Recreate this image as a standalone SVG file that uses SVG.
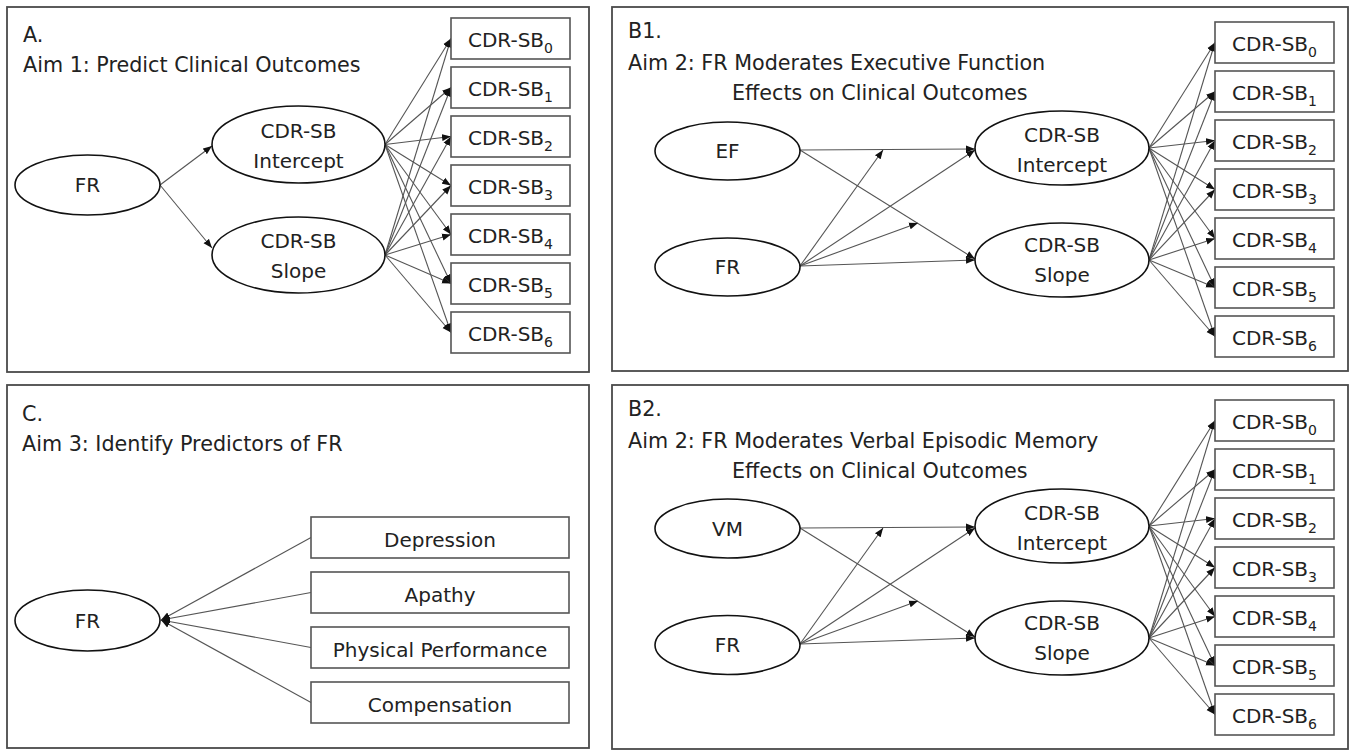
<svg xmlns="http://www.w3.org/2000/svg" width="1353" height="750" viewBox="0 0 1353 750">
<style>
text{font-family:"DejaVu Sans","Liberation Sans",sans-serif;font-size:20px;fill:#222}
.t{font-size:20.7px}
.c{text-anchor:middle}
.sub{font-size:14px}
.panel{fill:none;stroke:#4a4a4a;stroke-width:1.8}
.ell{fill:#fff;stroke:#111;stroke-width:1.6}
.box{fill:#fff;stroke:#555;stroke-width:1.6}
.con line{stroke:#555;stroke-width:1.1;fill:none}
.arr{marker-end:url(#ah)}
</style>
<defs>
<marker id="ah" markerUnits="userSpaceOnUse" markerWidth="9" markerHeight="8" refX="9" refY="4" orient="auto">
<path d="M0,0.5 L9,4 L0,7.5 z" fill="#111"/>
</marker>
</defs>
<rect width="1353" height="750" fill="#fff"/>

<!-- Panel borders -->
<g id="panels">
<rect class="panel" x="7" y="7" width="582" height="365"/>
<rect class="panel" x="612" y="7" width="736" height="364"/>
<rect class="panel" x="7" y="385" width="582" height="363"/>
<rect class="panel" x="612" y="385" width="736" height="364"/>
</g>

<!-- Titles -->
<g id="titles">
<text class="t" x="23" y="42">A.</text>
<text class="t" x="23" y="72">Aim 1: Predict Clinical Outcomes</text>
<text class="t" x="628" y="38">B1.</text>
<text class="t" x="628" y="70">Aim 2: FR Moderates Executive Function</text>
<text class="t" x="732" y="100">Effects on Clinical Outcomes</text>
<text class="t" x="22" y="421">C.</text>
<text class="t" x="22" y="451">Aim 3: Identify Predictors of FR</text>
<text class="t" x="628" y="416">B2.</text>
<text class="t" x="628" y="448">Aim 2: FR Moderates Verbal Episodic Memory</text>
<text class="t" x="732" y="478">Effects on Clinical Outcomes</text>
</g>

<!-- Connectors -->
<g id="connectors" class="con">
<!-- Panel A -->
<line class="arr" x1="160" y1="185" x2="212" y2="146"/>
<line class="arr" x1="160" y1="185" x2="212" y2="248"/>
<line class="arr" x1="385" y1="144.5" x2="451" y2="38.5"/>
<line class="arr" x1="385" y1="144.5" x2="451" y2="87.5"/>
<line class="arr" x1="385" y1="144.5" x2="451" y2="136.5"/>
<line class="arr" x1="385" y1="144.5" x2="451" y2="185.5"/>
<line class="arr" x1="385" y1="144.5" x2="451" y2="234.5"/>
<line class="arr" x1="385" y1="144.5" x2="451" y2="283.5"/>
<line class="arr" x1="385" y1="144.5" x2="451" y2="332.5"/>
<line class="arr" x1="385" y1="255" x2="451" y2="38.5"/>
<line class="arr" x1="385" y1="255" x2="451" y2="87.5"/>
<line class="arr" x1="385" y1="255" x2="451" y2="136.5"/>
<line class="arr" x1="385" y1="255" x2="451" y2="185.5"/>
<line class="arr" x1="385" y1="255" x2="451" y2="234.5"/>
<line class="arr" x1="385" y1="255" x2="451" y2="283.5"/>
<line class="arr" x1="385" y1="255" x2="451" y2="332.5"/>
<!-- Panel B1 -->
<line class="arr" x1="800" y1="150" x2="975" y2="149"/>
<line class="arr" x1="800" y1="150" x2="975" y2="259"/>
<line class="arr" x1="800" y1="266" x2="883" y2="150"/>
<line class="arr" x1="800" y1="266" x2="975" y2="150"/>
<line class="arr" x1="800" y1="266" x2="918" y2="223"/>
<line class="arr" x1="800" y1="266" x2="975" y2="260"/>
<line class="arr" x1="1149" y1="148" x2="1215" y2="42.5"/>
<line class="arr" x1="1149" y1="148" x2="1215" y2="91.5"/>
<line class="arr" x1="1149" y1="148" x2="1215" y2="140.5"/>
<line class="arr" x1="1149" y1="148" x2="1215" y2="189.5"/>
<line class="arr" x1="1149" y1="148" x2="1215" y2="238.5"/>
<line class="arr" x1="1149" y1="148" x2="1215" y2="287.5"/>
<line class="arr" x1="1149" y1="148" x2="1215" y2="336.5"/>
<line class="arr" x1="1149" y1="260" x2="1215" y2="42.5"/>
<line class="arr" x1="1149" y1="260" x2="1215" y2="91.5"/>
<line class="arr" x1="1149" y1="260" x2="1215" y2="140.5"/>
<line class="arr" x1="1149" y1="260" x2="1215" y2="189.5"/>
<line class="arr" x1="1149" y1="260" x2="1215" y2="238.5"/>
<line class="arr" x1="1149" y1="260" x2="1215" y2="287.5"/>
<line class="arr" x1="1149" y1="260" x2="1215" y2="336.5"/>
<!-- Panel C -->
<line class="arr" x1="311" y1="537.5" x2="161" y2="620"/>
<line class="arr" x1="311" y1="592.5" x2="161" y2="620"/>
<line class="arr" x1="311" y1="647.5" x2="161" y2="620"/>
<line class="arr" x1="311" y1="702.5" x2="161" y2="620"/>
<!-- Panel B2 -->
<line class="arr" x1="800" y1="528" x2="975" y2="527"/>
<line class="arr" x1="800" y1="528" x2="975" y2="637"/>
<line class="arr" x1="800" y1="644" x2="883" y2="528"/>
<line class="arr" x1="800" y1="644" x2="975" y2="528"/>
<line class="arr" x1="800" y1="644" x2="918" y2="601"/>
<line class="arr" x1="800" y1="644" x2="975" y2="638"/>
<line class="arr" x1="1149" y1="526" x2="1215" y2="420.5"/>
<line class="arr" x1="1149" y1="526" x2="1215" y2="469.5"/>
<line class="arr" x1="1149" y1="526" x2="1215" y2="518.5"/>
<line class="arr" x1="1149" y1="526" x2="1215" y2="567.5"/>
<line class="arr" x1="1149" y1="526" x2="1215" y2="616.5"/>
<line class="arr" x1="1149" y1="526" x2="1215" y2="665.5"/>
<line class="arr" x1="1149" y1="526" x2="1215" y2="714.5"/>
<line class="arr" x1="1149" y1="638" x2="1215" y2="420.5"/>
<line class="arr" x1="1149" y1="638" x2="1215" y2="469.5"/>
<line class="arr" x1="1149" y1="638" x2="1215" y2="518.5"/>
<line class="arr" x1="1149" y1="638" x2="1215" y2="567.5"/>
<line class="arr" x1="1149" y1="638" x2="1215" y2="616.5"/>
<line class="arr" x1="1149" y1="638" x2="1215" y2="665.5"/>
<line class="arr" x1="1149" y1="638" x2="1215" y2="714.5"/>
</g>

<!-- Panel A nodes -->
<g id="a-fr"><ellipse class="ell" cx="87.5" cy="185" rx="72.5" ry="30"/><text class="c" x="87.5" y="192">FR</text></g>
<g id="a-int"><ellipse class="ell" cx="298.5" cy="144.5" rx="86.5" ry="38.5"/><text class="c" x="298.5" y="137.5">CDR-SB</text><text class="c" x="298.5" y="167.5">Intercept</text></g>
<g id="a-slope"><ellipse class="ell" cx="298.5" cy="255" rx="86.5" ry="38"/><text class="c" x="298.5" y="248">CDR-SB</text><text class="c" x="298.5" y="278">Slope</text></g>
<g id="a-sb0"><rect class="box" x="451" y="18" width="119" height="41"/><text class="c" x="510.5" y="47">CDR-SB<tspan class="sub" dy="6">0</tspan></text></g>
<g id="a-sb1"><rect class="box" x="451" y="67" width="119" height="41"/><text class="c" x="510.5" y="96">CDR-SB<tspan class="sub" dy="6">1</tspan></text></g>
<g id="a-sb2"><rect class="box" x="451" y="116" width="119" height="41"/><text class="c" x="510.5" y="145">CDR-SB<tspan class="sub" dy="6">2</tspan></text></g>
<g id="a-sb3"><rect class="box" x="451" y="165" width="119" height="41"/><text class="c" x="510.5" y="194">CDR-SB<tspan class="sub" dy="6">3</tspan></text></g>
<g id="a-sb4"><rect class="box" x="451" y="214" width="119" height="41"/><text class="c" x="510.5" y="243">CDR-SB<tspan class="sub" dy="6">4</tspan></text></g>
<g id="a-sb5"><rect class="box" x="451" y="263" width="119" height="41"/><text class="c" x="510.5" y="292">CDR-SB<tspan class="sub" dy="6">5</tspan></text></g>
<g id="a-sb6"><rect class="box" x="451" y="312" width="119" height="41"/><text class="c" x="510.5" y="341">CDR-SB<tspan class="sub" dy="6">6</tspan></text></g>

<!-- Panel B1 nodes -->
<g id="b1-ef"><ellipse class="ell" cx="727.5" cy="151" rx="72.5" ry="29"/><text class="c" x="727.5" y="158">EF</text></g>
<g id="b1-fr"><ellipse class="ell" cx="727.5" cy="267" rx="72.5" ry="29"/><text class="c" x="727.5" y="274">FR</text></g>
<g id="b1-int"><ellipse class="ell" cx="1062" cy="148" rx="87" ry="37"/><text class="c" x="1062" y="142">CDR-SB</text><text class="c" x="1062" y="172">Intercept</text></g>
<g id="b1-slope"><ellipse class="ell" cx="1062" cy="260" rx="87" ry="37"/><text class="c" x="1062" y="252">CDR-SB</text><text class="c" x="1062" y="282">Slope</text></g>
<g id="b1-sb0"><rect class="box" x="1215" y="22" width="119" height="41"/><text class="c" x="1274.5" y="51">CDR-SB<tspan class="sub" dy="6">0</tspan></text></g>
<g id="b1-sb1"><rect class="box" x="1215" y="71" width="119" height="41"/><text class="c" x="1274.5" y="100">CDR-SB<tspan class="sub" dy="6">1</tspan></text></g>
<g id="b1-sb2"><rect class="box" x="1215" y="120" width="119" height="41"/><text class="c" x="1274.5" y="149">CDR-SB<tspan class="sub" dy="6">2</tspan></text></g>
<g id="b1-sb3"><rect class="box" x="1215" y="169" width="119" height="41"/><text class="c" x="1274.5" y="198">CDR-SB<tspan class="sub" dy="6">3</tspan></text></g>
<g id="b1-sb4"><rect class="box" x="1215" y="218" width="119" height="41"/><text class="c" x="1274.5" y="247">CDR-SB<tspan class="sub" dy="6">4</tspan></text></g>
<g id="b1-sb5"><rect class="box" x="1215" y="267" width="119" height="41"/><text class="c" x="1274.5" y="296">CDR-SB<tspan class="sub" dy="6">5</tspan></text></g>
<g id="b1-sb6"><rect class="box" x="1215" y="316" width="119" height="41"/><text class="c" x="1274.5" y="345">CDR-SB<tspan class="sub" dy="6">6</tspan></text></g>

<!-- Panel C nodes -->
<g id="c-fr"><ellipse class="ell" cx="87.5" cy="620.5" rx="72.5" ry="30.5"/><text class="c" x="87.5" y="628">FR</text></g>
<g id="c-dep"><rect class="box" x="311" y="517" width="258" height="41"/><text class="c" x="440" y="547">Depression</text></g>
<g id="c-apa"><rect class="box" x="311" y="572" width="258" height="41"/><text class="c" x="440" y="602">Apathy</text></g>
<g id="c-phy"><rect class="box" x="311" y="627" width="258" height="41"/><text class="c" x="440" y="657">Physical Performance</text></g>
<g id="c-com"><rect class="box" x="311" y="682" width="258" height="41"/><text class="c" x="440" y="712">Compensation</text></g>

<!-- Panel B2 nodes -->
<g id="b2-vm"><ellipse class="ell" cx="727.5" cy="528.5" rx="72.5" ry="29.5"/><text class="c" x="727.5" y="536">VM</text></g>
<g id="b2-fr"><ellipse class="ell" cx="727.5" cy="645" rx="72.5" ry="29.5"/><text class="c" x="727.5" y="652">FR</text></g>
<g id="b2-int"><ellipse class="ell" cx="1062" cy="526" rx="87" ry="37"/><text class="c" x="1062" y="520">CDR-SB</text><text class="c" x="1062" y="550">Intercept</text></g>
<g id="b2-slope"><ellipse class="ell" cx="1062" cy="638" rx="87" ry="37"/><text class="c" x="1062" y="630">CDR-SB</text><text class="c" x="1062" y="660">Slope</text></g>
<g id="b2-sb0"><rect class="box" x="1215" y="400" width="119" height="41"/><text class="c" x="1274.5" y="429">CDR-SB<tspan class="sub" dy="6">0</tspan></text></g>
<g id="b2-sb1"><rect class="box" x="1215" y="449" width="119" height="41"/><text class="c" x="1274.5" y="478">CDR-SB<tspan class="sub" dy="6">1</tspan></text></g>
<g id="b2-sb2"><rect class="box" x="1215" y="498" width="119" height="41"/><text class="c" x="1274.5" y="527">CDR-SB<tspan class="sub" dy="6">2</tspan></text></g>
<g id="b2-sb3"><rect class="box" x="1215" y="547" width="119" height="41"/><text class="c" x="1274.5" y="576">CDR-SB<tspan class="sub" dy="6">3</tspan></text></g>
<g id="b2-sb4"><rect class="box" x="1215" y="596" width="119" height="41"/><text class="c" x="1274.5" y="625">CDR-SB<tspan class="sub" dy="6">4</tspan></text></g>
<g id="b2-sb5"><rect class="box" x="1215" y="645" width="119" height="41"/><text class="c" x="1274.5" y="674">CDR-SB<tspan class="sub" dy="6">5</tspan></text></g>
<g id="b2-sb6"><rect class="box" x="1215" y="694" width="119" height="41"/><text class="c" x="1274.5" y="723">CDR-SB<tspan class="sub" dy="6">6</tspan></text></g>
</svg>
